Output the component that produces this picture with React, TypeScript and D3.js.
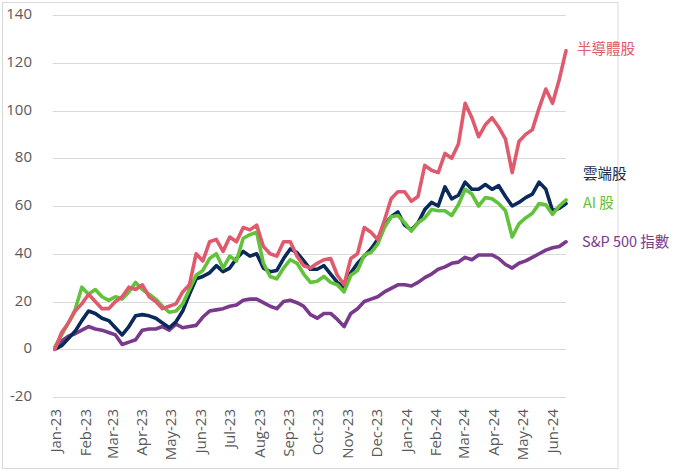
import React from "react";
import * as d3 from "d3";

const W = 677;
const H = 471;

// Weekly observations (Fridays) starting 2022-12-30
const startDate = new Date(2022, 11, 30);
const weekCount = 77;
const dates: Date[] = d3.range(weekCount).map((i) => d3.timeDay.offset(startDate, 7 * i));

const semiconductor = [
  0, 7, 11, 16, 19, 23, 20, 17, 17, 20, 22, 26, 25, 27, 22, 20, 17, 18, 19, 24,
  27, 40, 37, 45, 46, 41, 47, 45, 51, 50, 52, 43, 40, 39, 45, 45, 39, 35, 34, 36,
  37.5, 38, 31, 27, 38, 40, 51, 49, 46, 54, 63, 66, 66, 62, 64, 77, 75, 74, 82, 80,
  86, 103, 97, 89, 94, 97, 93, 88, 74, 87, 90, 92, 101, 109, 103, 113, 125,
];
const cloud = [
  0, 1.5, 4.5, 7.5, 12, 16, 15, 13, 12, 9, 6, 9.5, 14, 14.5, 14, 13, 11, 9, 11.5, 16,
  23, 29.5, 30.5, 32, 35, 32.5, 34, 38, 41, 39, 40, 34, 32.5, 33, 38, 42, 40.5, 37, 33.5, 33.5,
  35, 31.5, 28, 26, 32, 36, 39, 42, 46, 52, 55.5, 57.5, 52, 50, 53, 58.5, 61.5, 60, 68, 63,
  64.5, 70, 67, 67, 69, 67, 68.5, 64, 60, 61.5, 63.5, 65, 70, 67, 58, 59, 61,
];
const ai = [
  1, 6, 11, 16.5, 26, 23, 25, 22, 20.5, 22, 21, 24, 28, 25, 23, 21, 18, 15.5, 16, 19,
  25, 31, 33, 38, 40, 34, 39, 37, 46.5, 48, 49, 36, 30.5, 29.5, 34, 37.5, 36, 31.5, 28, 28.5,
  30.5, 28, 27, 24, 31, 33, 39.5, 40.5, 44, 51, 55.5, 56, 53, 49.5, 53, 55, 58.5, 58, 58, 56,
  60.5, 67, 65, 60, 63.5, 63, 61, 58, 47, 52.5, 55, 57, 61, 60.5, 56.5, 60, 62.5,
];
const sp500 = [
  0, 3.5, 5.5, 6.5, 8, 9.5, 8.5, 8, 7, 6, 2, 3, 4, 8, 8.5, 8.5, 9.5, 8, 10.5, 9,
  9.5, 10, 13.5, 16, 16.5, 17, 18, 18.5, 20.5, 21, 21, 19.5, 18, 17, 20, 20.5, 19.5, 18, 14.5, 13,
  15, 15, 12.5, 9.5, 15, 17, 20, 21, 22, 24, 25.5, 27, 27, 26.5, 28, 30, 31.5, 33.5, 34.5, 36,
  36.5, 38.5, 37.5, 39.5, 39.5, 39.5, 38, 35.5, 34, 36, 37, 38.5, 40, 41.5, 42.5, 43, 45,
];

const seriesNames = ["S&P 500 指數", "雲端股", "AI 股", "半導體股"];
const seriesValues = [sp500, cloud, ai, semiconductor];
const seriesColors = ["#7A3A8C", "#0B2A5B", "#62C23A", "#E05A6D"];
const labelColors = ["#7A3A8C", "#1C2B4A", "#62C23A", "#E05A6D"];

const yTicks = [-20, 0, 20, 40, 60, 80, 100, 120, 140];

export default function App() {
  const x = d3
    .scaleTime()
    .domain([new Date(2022, 11, 28), new Date(2024, 5, 14)])
    .range([53, 566]);
  const y = d3.scaleLinear().domain([-20, 140]).range([397, 15]);

  const monthTicks = d3.timeMonth.range(new Date(2023, 0, 1), new Date(2024, 5, 2));
  const fmt = d3.timeFormat("%b-%y");

  const line = d3
    .line<number>()
    .x((_, i) => x(dates[i]))
    .y((v) => y(v));

  const fontFamily = "'Open Sans', 'Noto Sans CJK TC', sans-serif";
  const cjk = "'Noto Sans CJK TC', sans-serif";

  return (
    <svg
      width={W}
      height={H}
      style={{ position: "absolute", left: 0, top: 0, background: "#fff" }}
      fontFamily={fontFamily}
    >
      <rect x={2.5} y={2.5} width={615.5} height={466} fill="#fff" stroke="#D9D9D9" strokeWidth={1} />
      {yTicks.map((t) => (
        <g key={t}>
          <line x1={53} x2={566} y1={Math.round(y(t)) + 0.5} y2={Math.round(y(t)) + 0.5} stroke="#D9D9D9" strokeWidth={1} />
          <text x={32} y={y(t)} textAnchor="end" dominantBaseline="middle" fontSize={15} fill="#595959">
            {t}
          </text>
        </g>
      ))}
      {monthTicks.map((d) => (
        <text
          key={d.toISOString()}
          transform={`translate(${x(d)},${409}) rotate(-90)`}
          textAnchor="end"
          dominantBaseline="middle"
          fontSize={15}
          fill="#595959"
        >
          {fmt(d)}
        </text>
      ))}
      {seriesValues.map((vals, k) => (
        <path
          key={seriesNames[k]}
          d={line(vals) || ""}
          fill="none"
          stroke={seriesColors[k]}
          strokeWidth={3.6}
          strokeLinejoin="round"
          strokeLinecap="round"
        />
      ))}
      <text x={577} y={50} fontSize={14.5} fill={labelColors[3]} dominantBaseline="middle" fontFamily={cjk}>
        {seriesNames[3]}
      </text>
      <text x={583} y={175} fontSize={14.5} fill={labelColors[1]} dominantBaseline="middle" fontFamily={cjk}>
        {seriesNames[1]}
      </text>
      <text x={583} y={204} fontSize={14.5} fill={labelColors[2]} dominantBaseline="middle" fontFamily={cjk}>
        {seriesNames[2]}
      </text>
      <text x={582} y={243} fontSize={14.5} fill={labelColors[0]} dominantBaseline="middle" fontFamily={cjk}>
        {seriesNames[0]}
      </text>
    </svg>
  );
}
